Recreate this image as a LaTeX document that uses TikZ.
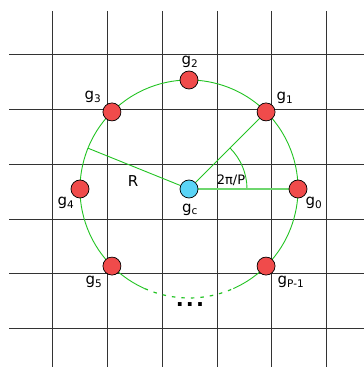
\documentclass[tikz,border=0pt]{standalone}
\usepackage{fontspec}
\setmainfont{DejaVu Sans}
\usetikzlibrary{backgrounds}
\definecolor{gred}{HTML}{F04B4B}
\definecolor{gblue}{HTML}{5AD4F6}
\definecolor{ggreen}{HTML}{22C322}
\definecolor{glight}{HTML}{6ED66E}
\pgfdeclarelayer{mid}
\pgfsetlayers{background,mid,main}
\tikzset{
  gridline/.style={draw=black!80, line width=0.95pt},
  ring/.style={draw=ggreen, line width=0.9pt},
  pt/.style={circle, draw=black, line width=0.7pt, minimum size=18pt, inner sep=0pt},
  redpt/.style={pt, fill=gred},
  bluept/.style={pt, fill=gblue},
  lbl/.style={font=\fontsize{15}{17}\selectfont, inner sep=0pt},
}
\begin{document}
\begin{tikzpicture}[x=1pt,y=1pt]
\useasboundingbox (0,0) rectangle (364,367);
\coordinate (c) at (189,178);
% nodes
\node[bluept] (gc) at (c) {};
\node[redpt] (g0) at ([shift={(0:109)}]c) {};
\node[redpt] (g1) at ([shift={(45:109)}]c) {};
\node[redpt] (g2) at ([shift={(90:109)}]c) {};
\node[redpt] (g3) at ([shift={(135:109)}]c) {};
\node[redpt] (g4) at ([shift={(180:109)}]c) {};
\node[redpt] (g5) at ([shift={(225:109)}]c) {};
\node[redpt] (gp) at ([shift={(315:109)}]c) {};
\coordinate (rend) at ([shift={(158:109)}]c);
\begin{pgfonlayer}{background}
% grid
\foreach \yy in {313,258,203,148,94,39} \draw[gridline] (9,\yy) -- (364,\yy);
\foreach \xx in {52,107,162,217,271,326} \draw[gridline] (\xx,356) -- (\xx,0);
\end{pgfonlayer}
\begin{pgfonlayer}{mid}
% ring
\draw[ring] ([shift={(-66:109)}]c) arc[start angle=-66, end angle=246, radius=109];
\draw[ring, line width=1.2pt, dash pattern=on 3.5pt off 6pt] ([shift={(246:109)}]c) arc[start angle=246, end angle=294, radius=109];
% angle arc
\draw[ring] ([shift={(0:58)}]c) arc[start angle=0, end angle=45, radius=58];
% connectors
\draw[ring] (gc) -- (g1);
\draw[ring] (gc) -- (rend);
\draw[draw=glight, line width=1.8pt] (gc) -- (g0);
\end{pgfonlayer}
% labels
\node[lbl] (l2) at (190,305) {g\textsubscript{2}};
\node[lbl] (l3) at (93,270) {g\textsubscript{3}};
\node[lbl] (l1) at (285,269) {g\textsubscript{1}};
\node[lbl] (l4) at (66,164) {g\textsubscript{4}};
\node[lbl] (l0) at (314,164) {g\textsubscript{0}};
\node[lbl] (l5) at (94,85) {g\textsubscript{5}};
\node[lbl] (lp) at (291,85) {g\textsubscript{P-1}};
\node[lbl] (lc) at (190,157) {g\textsubscript{c}};
\node[lbl] (lR) at (133,186) {R};
\node[lbl, font=\fontsize{13}{15}\selectfont] (la) at (231,187) {2π/P};
\node[inner sep=0pt, anchor=base, font=\fontsize{21}{23}\selectfont\bfseries\addfontfeature{LetterSpace=10}] (dots) at (190,60) {...};
\end{tikzpicture}
\end{document}
